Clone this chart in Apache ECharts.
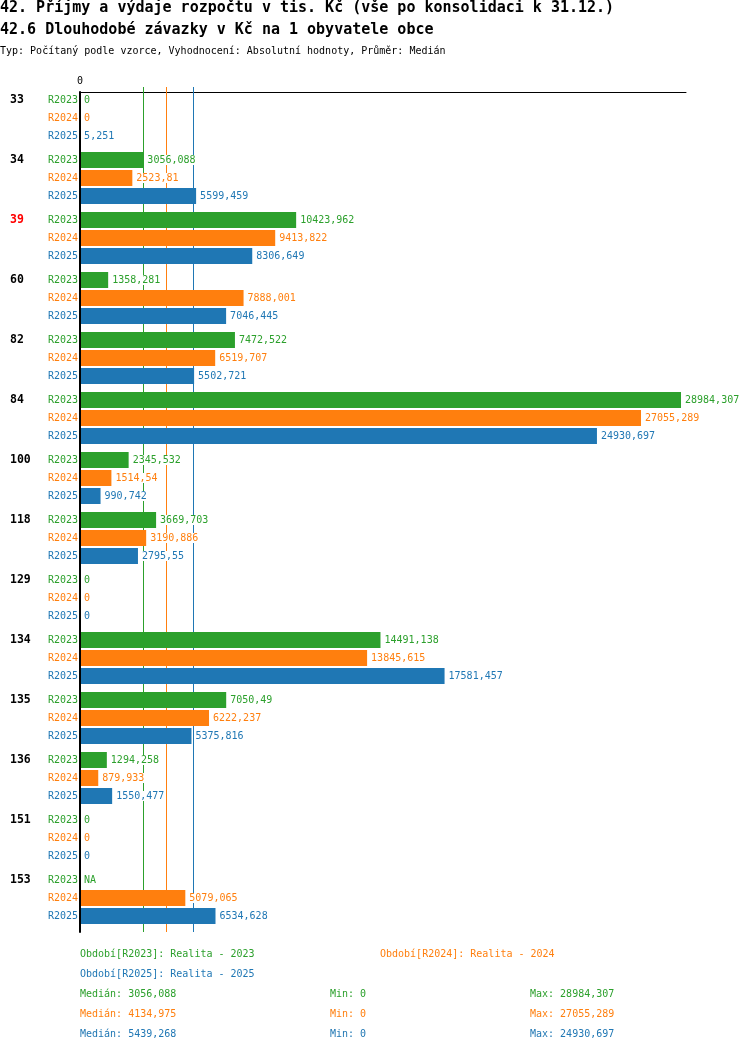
<!DOCTYPE html>
<html><head><meta charset="utf-8">
<script src="https://cdn.jsdelivr.net/npm/echarts@6/dist/echarts.min.js"></script>
<style>html,body{margin:0;padding:0;background:#fff}#c{width:750px;height:1052px}</style>
</head><body><div id="c"></div>
<script>
const categories = ['33','34','39','60','82','84','100','118','129','134','135','136','151','153'];
const highlighted = ['39'];
const periods = ['R2023','R2024','R2025'];
const periodNames = ['Realita - 2023','Realita - 2024','Realita - 2025'];
const r2023 = [0,3056.088,10423.962,1358.281,7472.522,28984.307,2345.532,3669.703,0,14491.138,7050.49,1294.258,0,null];
const r2024 = [0,2523.81,9413.822,7888.001,6519.707,27055.289,1514.54,3190.886,0,13845.615,6222.237,879.933,0,5079.065];
const r2025 = [5.251,5599.459,8306.649,7046.445,5502.721,24930.697,990.742,2795.55,0,17581.457,5375.816,1550.477,0,6534.628];
const medians = [3056.088, 4134.975, 5439.268];
const mins = [0, 0, 0];
const maxs = [28984.307, 27055.289, 24930.697];
const colors = ['#2ca02c','#ff7f0e','#1f77b4'];
const allSeries = [r2023, r2024, r2025];

const MONO = '"DejaVu Sans Mono", "Liberation Mono", monospace';
const fmt = v => String(v).replace('.', ',');

const series = [];
periods.forEach((p, i) => {
  series.push({
    type: 'bar', name: p + '_lbl', stack: 's' + i, barWidth: 16, barGap: '12.5%',
    data: categories.map(() => 0), silent: true, z: 3,
    itemStyle: { color: 'rgba(0,0,0,0)' },
    label: { show: true, position: 'left', distance: 2, formatter: p, color: colors[i],
      fontFamily: MONO, fontSize: 10 }
  });
  series.push({
    type: 'bar', name: p, stack: 's' + i, barWidth: 16, barGap: '12.5%', z: 2,
    data: allSeries[i].map(v => v == null ? { value: 0, label: { formatter: 'NA' } } : v),
    itemStyle: { color: colors[i] },
    label: { show: true, position: 'right', distance: 3, color: colors[i],
      fontFamily: MONO, fontSize: 10, backgroundColor: '#fff', padding: [0, 1],
      formatter: q => fmt(q.value) }
  });
});
series.push({
  type: 'bar', name: 'pad', stack: 'pad', barWidth: 6, barGap: '12.5%', silent: true,
  data: categories.map(() => '-'), itemStyle: { color: 'rgba(0,0,0,0)' }
});
series.push({
  type: 'custom', name: 'medians', z: 1, silent: true,
  data: medians.map((m, i) => ({ value: [m, 0], itemStyle: { color: colors[i] } })),
  encode: { x: 0, y: 1 },
  renderItem: (params, api) => {
    const x = Math.round(api.coord([api.value(0), 0])[0]) + 0.5;
    const cs = params.coordSys;
    return {
      type: 'rect',
      shape: { x: x - 0.5, y: cs.y - 5, width: 1, height: cs.height + 5 },
      style: { fill: api.visual('color'), stroke: null, lineWidth: 0 }
    };
  }
});

const graphics = [];
const txt = (text, x, y, font, fill) => graphics.push({
  type: 'text', x: x, y: y, silent: true,
  style: { text: text, font: font, fill: fill, textVerticalAlign: 'middle', verticalAlign: 'middle' }
});
txt('42. Příjmy a výdaje rozpočtu v tis. Kč (vše po konsolidaci k 31.12.)', 0, 8, 'bold 15px ' + MONO, '#000');
txt('42.6 Dlouhodobé závazky v Kč na 1 obyvatele obce', 0, 30, 'bold 15px ' + MONO, '#000');
txt('Typ: Počítaný podle vzorce, Vyhodnocení: Absolutní hodnoty, Průměr: Medián', 0, 51, '10px ' + MONO, '#000');
const legPos = [[80, 954], [380, 954], [80, 974]];
periods.forEach((p, i) => {
  txt('Období[' + p + ']: ' + periodNames[i], legPos[i][0], legPos[i][1], '10px ' + MONO, colors[i]);
  const y = 994 + 20 * i;
  txt('Medián: ' + fmt(medians[i]), 80, y, '10px ' + MONO, colors[i]);
  txt('Min: ' + fmt(mins[i]), 330, y, '10px ' + MONO, colors[i]);
  txt('Max: ' + fmt(maxs[i]), 530, y, '10px ' + MONO, colors[i]);
});

const chart = echarts.init(document.getElementById('c'), null, { renderer: 'canvas' });
chart.setOption({
  animation: false,
  backgroundColor: '#fff',
  grid: { left: 80, top: 92, width: 606, height: 840, containLabel: false },
  xAxis: {
    type: 'value', position: 'top', min: 0, max: 29225,
    axisLine: { show: true, lineStyle: { color: '#000', width: 1 } },
    axisTick: { show: false }, splitLine: { show: false },
    axisLabel: { formatter: v => (v === 0 ? '0' : ''), fontFamily: MONO, fontSize: 10, color: '#000', margin: 6 }
  },
  yAxis: {
    type: 'category', data: categories, inverse: true, z: 5,
    axisLine: { show: true, lineStyle: { color: '#000', width: 2 } },
    axisTick: { show: false }, splitLine: { show: false },
    axisLabel: {
      align: 'left', margin: 70,
      formatter: v => '{' + (highlighted.indexOf(v) >= 0 ? 'r' : 'n') + '|' + v + '}',
      rich: {
        n: { fontFamily: MONO, fontSize: 11.5, fontWeight: 'bold', color: '#000', padding: [0, 0, 44, 0] },
        r: { fontFamily: MONO, fontSize: 11.5, fontWeight: 'bold', color: '#ff0000', padding: [0, 0, 44, 0] }
      }
    }
  },
  series: series,
  graphic: graphics
});
</script>
</body></html>
